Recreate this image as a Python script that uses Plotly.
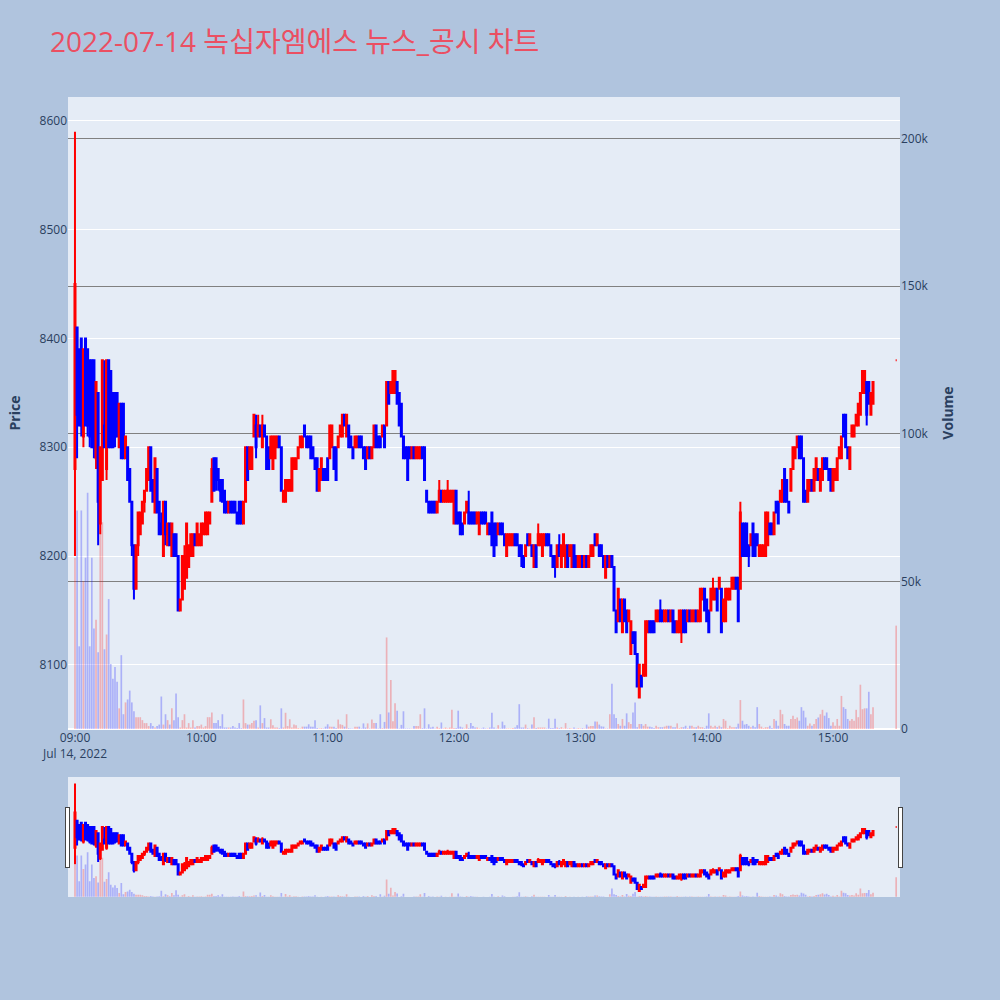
import pandas as pd
import plotly.graph_objects as go
from plotly.subplots import make_subplots

title_text = "2022-07-14 녹십자엠에스 뉴스_공시 차트"

# one candle per minute 09:00 .. 15:19, then the 15:30 closing auction
session_start = "2022-07-14 09:00"
closing_auction = "2022-07-14 15:30"
view_range = ["2022-07-14 08:56:41", "2022-07-14 15:31:49"]

open_px = [
    8280, 8410, 8390, 8400, 8310, 8400, 8390, 8380, 8380, 8380,
    8290, 8350, 8230, 8270, 8320, 8280, 8380, 8370, 8350, 8350,
    8350, 8300, 8340, 8340, 8290, 8300, 8280, 8250, 8210, 8170,
    8210, 8220, 8230, 8250, 8260, 8270, 8300, 8270, 8240, 8280,
    8250, 8230, 8200, 8250, 8210, 8230, 8200, 8220, 8220, 8200,
    8150, 8160, 8170, 8180, 8190, 8200, 8200, 8220, 8210, 8210,
    8210, 8220, 8220, 8220, 8230, 8250, 8290, 8290, 8280, 8270,
    8270, 8260, 8250, 8240, 8250, 8250, 8250, 8240, 8250, 8250,
    8230, 8250, 8300, 8280, 8280, 8310, 8320, 8310, 8320, 8300,
    8320, 8310, 8300, 8290, 8280, 8290, 8300, 8310, 8300, 8250,
    8250, 8260, 8260, 8260, 8280, 8280, 8290, 8300, 8300, 8320,
    8310, 8310, 8310, 8300, 8290, 8290, 8260, 8270, 8280, 8280,
    8290, 8290, 8300, 8300, 8300, 8300, 8310, 8310, 8330, 8310,
    8320, 8310, 8300, 8300, 8300, 8310, 8310, 8300, 8300, 8290,
    8300, 8290, 8300, 8320, 8310, 8310, 8310, 8320, 8320, 8360,
    8350, 8350, 8350, 8360, 8350, 8340, 8310, 8300, 8300, 8300,
    8290, 8300, 8290, 8290, 8290, 8300, 8300, 8260, 8250, 8250,
    8250, 8250, 8240, 8250, 8260, 8250, 8250, 8250, 8250, 8250,
    8230, 8260, 8240, 8240, 8230, 8230, 8240, 8240, 8240, 8240,
    8240, 8230, 8220, 8240, 8240, 8240, 8220, 8230, 8240, 8230,
    8230, 8220, 8230, 8230, 8220, 8200, 8210, 8210, 8210, 8220,
    8220, 8210, 8210, 8200, 8200, 8220, 8210, 8210, 8190, 8210,
    8210, 8210, 8200, 8210, 8220, 8220, 8210, 8200, 8200, 8190,
    8210, 8190, 8200, 8190, 8210, 8200, 8190, 8210, 8200, 8190,
    8190, 8200, 8190, 8200, 8190, 8200, 8200, 8220, 8210, 8210,
    8210, 8200, 8180, 8200, 8190, 8200, 8190, 8150, 8140, 8160,
    8130, 8160, 8150, 8140, 8110, 8130, 8130, 8110, 8070, 8090,
    8090, 8090, 8130, 8140, 8140, 8140, 8140, 8140, 8150, 8150,
    8140, 8140, 8150, 8140, 8150, 8140, 8130, 8130, 8130, 8150,
    8150, 8140, 8150, 8140, 8140, 8150, 8140, 8140, 8160, 8170,
    8160, 8150, 8150, 8160, 8160, 8170, 8170, 8170, 8140, 8140,
    8160, 8160, 8170, 8170, 8180, 8180, 8170, 8230, 8230, 8230,
    8210, 8210, 8230, 8220, 8220, 8200, 8200, 8200, 8200, 8210,
    8230, 8230, 8220, 8250, 8250, 8250, 8250, 8280, 8270, 8250,
    8260, 8280, 8290, 8300, 8310, 8310, 8290, 8260, 8250, 8260,
    8270, 8260, 8270, 8280, 8260, 8270, 8290, 8290, 8280, 8280,
    8260, 8270, 8270, 8290, 8290, 8330, 8330, 8300, 8280, 8310,
    8310, 8320, 8320, 8330, 8350, 8350, 8360, 8360, 8330, 8340,
    8380,
]

high_px = [
    8590, 8410, 8390, 8400, 8390, 8400, 8390, 8380, 8380, 8380,
    8360, 8350, 8300, 8380, 8380, 8380, 8380, 8370, 8350, 8350,
    8350, 8340, 8340, 8340, 8310, 8300, 8280, 8250, 8210, 8210,
    8240, 8240, 8250, 8260, 8280, 8300, 8300, 8270, 8290, 8280,
    8250, 8240, 8250, 8250, 8230, 8230, 8230, 8220, 8220, 8200,
    8160, 8200, 8210, 8230, 8210, 8220, 8220, 8220, 8230, 8220,
    8230, 8230, 8240, 8240, 8240, 8290, 8290, 8290, 8280, 8270,
    8270, 8260, 8250, 8250, 8250, 8250, 8250, 8240, 8250, 8250,
    8250, 8300, 8300, 8300, 8300, 8330, 8330, 8330, 8320, 8330,
    8320, 8310, 8300, 8310, 8310, 8310, 8310, 8310, 8300, 8260,
    8270, 8270, 8270, 8290, 8290, 8290, 8300, 8310, 8310, 8320,
    8310, 8310, 8310, 8300, 8290, 8290, 8280, 8290, 8280, 8280,
    8290, 8320, 8320, 8300, 8300, 8310, 8320, 8330, 8330, 8330,
    8320, 8310, 8300, 8310, 8310, 8310, 8310, 8300, 8300, 8300,
    8300, 8300, 8320, 8320, 8310, 8310, 8320, 8320, 8360, 8360,
    8360, 8370, 8370, 8360, 8350, 8340, 8310, 8300, 8300, 8300,
    8300, 8300, 8300, 8300, 8300, 8300, 8300, 8260, 8250, 8250,
    8250, 8250, 8250, 8270, 8260, 8260, 8260, 8270, 8260, 8260,
    8260, 8260, 8240, 8240, 8230, 8240, 8250, 8260, 8240, 8240,
    8240, 8240, 8240, 8240, 8240, 8240, 8230, 8230, 8240, 8230,
    8230, 8230, 8230, 8230, 8220, 8220, 8220, 8220, 8220, 8220,
    8220, 8210, 8210, 8200, 8210, 8220, 8220, 8210, 8210, 8210,
    8230, 8220, 8220, 8220, 8220, 8220, 8210, 8200, 8200, 8210,
    8220, 8210, 8220, 8210, 8210, 8210, 8210, 8210, 8200, 8200,
    8200, 8200, 8200, 8200, 8200, 8210, 8210, 8220, 8220, 8210,
    8210, 8200, 8200, 8200, 8200, 8200, 8190, 8150, 8170, 8160,
    8160, 8160, 8150, 8150, 8140, 8130, 8130, 8110, 8100, 8090,
    8100, 8140, 8140, 8140, 8140, 8140, 8150, 8150, 8160, 8150,
    8150, 8150, 8150, 8150, 8150, 8140, 8140, 8150, 8150, 8150,
    8150, 8150, 8150, 8150, 8150, 8150, 8150, 8170, 8170, 8170,
    8160, 8150, 8170, 8180, 8170, 8170, 8180, 8170, 8160, 8170,
    8170, 8170, 8180, 8180, 8180, 8180, 8250, 8230, 8230, 8230,
    8210, 8220, 8230, 8220, 8220, 8210, 8210, 8210, 8240, 8240,
    8230, 8230, 8240, 8250, 8250, 8260, 8270, 8280, 8270, 8250,
    8280, 8300, 8300, 8310, 8310, 8310, 8290, 8260, 8270, 8270,
    8270, 8280, 8290, 8280, 8280, 8290, 8290, 8290, 8280, 8280,
    8280, 8280, 8290, 8300, 8310, 8330, 8330, 8300, 8300, 8320,
    8320, 8330, 8340, 8350, 8370, 8370, 8360, 8360, 8350, 8360,
    8380,
]

low_px = [
    8200, 8290, 8320, 8310, 8300, 8320, 8310, 8300, 8300, 8290,
    8280, 8210, 8220, 8270, 8300, 8270, 8300, 8300, 8300, 8300,
    8310, 8300, 8290, 8290, 8290, 8270, 8250, 8200, 8160, 8170,
    8200, 8220, 8230, 8240, 8260, 8270, 8260, 8250, 8240, 8240,
    8220, 8220, 8200, 8210, 8210, 8210, 8200, 8200, 8200, 8150,
    8150, 8160, 8170, 8180, 8190, 8200, 8200, 8210, 8210, 8210,
    8210, 8220, 8220, 8220, 8230, 8250, 8260, 8260, 8260, 8250,
    8250, 8240, 8240, 8240, 8240, 8240, 8240, 8230, 8230, 8230,
    8230, 8250, 8270, 8280, 8280, 8310, 8290, 8310, 8310, 8300,
    8310, 8280, 8280, 8290, 8280, 8290, 8300, 8300, 8260, 8250,
    8250, 8260, 8260, 8260, 8280, 8280, 8290, 8300, 8300, 8310,
    8300, 8300, 8290, 8290, 8280, 8260, 8260, 8270, 8270, 8270,
    8270, 8290, 8300, 8280, 8270, 8300, 8310, 8310, 8320, 8310,
    8300, 8300, 8290, 8300, 8300, 8300, 8300, 8290, 8280, 8290,
    8290, 8290, 8300, 8300, 8300, 8300, 8310, 8300, 8320, 8340,
    8350, 8350, 8350, 8340, 8320, 8310, 8290, 8290, 8270, 8290,
    8290, 8290, 8290, 8290, 8290, 8290, 8270, 8250, 8240, 8240,
    8240, 8240, 8240, 8250, 8250, 8250, 8250, 8250, 8250, 8250,
    8230, 8230, 8230, 8220, 8220, 8230, 8240, 8230, 8230, 8230,
    8230, 8230, 8220, 8230, 8230, 8230, 8220, 8220, 8210, 8200,
    8210, 8220, 8220, 8220, 8210, 8200, 8210, 8210, 8210, 8210,
    8210, 8200, 8190, 8190, 8200, 8210, 8210, 8200, 8190, 8190,
    8210, 8210, 8200, 8210, 8210, 8210, 8200, 8190, 8180, 8190,
    8200, 8190, 8200, 8190, 8190, 8200, 8190, 8190, 8190, 8190,
    8190, 8190, 8190, 8190, 8190, 8200, 8200, 8210, 8210, 8200,
    8200, 8190, 8180, 8190, 8190, 8190, 8150, 8130, 8140, 8140,
    8130, 8140, 8130, 8140, 8110, 8120, 8110, 8080, 8070, 8080,
    8090, 8090, 8130, 8130, 8130, 8130, 8140, 8140, 8140, 8140,
    8140, 8140, 8140, 8140, 8130, 8130, 8130, 8130, 8120, 8130,
    8130, 8140, 8140, 8140, 8140, 8140, 8140, 8140, 8160, 8150,
    8140, 8130, 8150, 8160, 8160, 8150, 8170, 8130, 8140, 8140,
    8160, 8160, 8170, 8170, 8170, 8140, 8170, 8200, 8200, 8200,
    8190, 8210, 8200, 8200, 8210, 8200, 8200, 8200, 8200, 8210,
    8220, 8220, 8220, 8240, 8230, 8250, 8250, 8250, 8250, 8240,
    8260, 8280, 8290, 8300, 8290, 8290, 8250, 8250, 8250, 8260,
    8260, 8260, 8270, 8270, 8260, 8270, 8280, 8280, 8270, 8260,
    8260, 8270, 8270, 8290, 8290, 8310, 8300, 8290, 8280, 8310,
    8310, 8320, 8320, 8330, 8350, 8350, 8320, 8340, 8330, 8340,
    8380,
]

close_px = [
    8450, 8330, 8320, 8320, 8390, 8320, 8320, 8310, 8300, 8300,
    8360, 8250, 8300, 8380, 8300, 8380, 8300, 8300, 8300, 8310,
    8310, 8340, 8290, 8290, 8310, 8270, 8250, 8210, 8170, 8210,
    8240, 8240, 8250, 8260, 8280, 8300, 8260, 8250, 8290, 8240,
    8220, 8220, 8250, 8220, 8230, 8210, 8230, 8200, 8200, 8150,
    8160, 8200, 8200, 8230, 8210, 8220, 8220, 8210, 8230, 8220,
    8230, 8230, 8240, 8240, 8240, 8280, 8260, 8270, 8270, 8260,
    8250, 8240, 8240, 8250, 8240, 8240, 8240, 8230, 8230, 8230,
    8250, 8300, 8270, 8300, 8300, 8330, 8300, 8320, 8310, 8320,
    8310, 8280, 8280, 8310, 8310, 8310, 8310, 8300, 8260, 8260,
    8270, 8270, 8270, 8290, 8290, 8290, 8300, 8310, 8310, 8310,
    8300, 8300, 8290, 8290, 8280, 8260, 8280, 8290, 8270, 8270,
    8270, 8320, 8320, 8280, 8270, 8310, 8320, 8330, 8320, 8330,
    8300, 8300, 8290, 8310, 8310, 8300, 8300, 8290, 8280, 8300,
    8290, 8300, 8320, 8300, 8300, 8300, 8320, 8300, 8360, 8340,
    8360, 8370, 8370, 8340, 8320, 8310, 8290, 8290, 8270, 8290,
    8300, 8290, 8300, 8300, 8300, 8290, 8270, 8250, 8240, 8240,
    8240, 8240, 8250, 8260, 8250, 8260, 8260, 8260, 8260, 8260,
    8260, 8230, 8230, 8220, 8220, 8240, 8250, 8230, 8230, 8230,
    8230, 8240, 8240, 8230, 8230, 8230, 8230, 8220, 8210, 8200,
    8210, 8230, 8220, 8220, 8210, 8220, 8220, 8220, 8220, 8210,
    8210, 8200, 8200, 8190, 8210, 8210, 8220, 8200, 8210, 8190,
    8220, 8220, 8220, 8220, 8210, 8210, 8200, 8190, 8190, 8210,
    8200, 8210, 8220, 8210, 8190, 8210, 8210, 8190, 8190, 8200,
    8200, 8190, 8200, 8190, 8200, 8210, 8210, 8210, 8220, 8200,
    8200, 8190, 8200, 8190, 8200, 8190, 8150, 8130, 8170, 8140,
    8160, 8140, 8130, 8150, 8140, 8120, 8110, 8080, 8100, 8080,
    8100, 8140, 8140, 8130, 8130, 8130, 8150, 8150, 8140, 8140,
    8150, 8150, 8140, 8150, 8130, 8130, 8140, 8150, 8150, 8130,
    8130, 8150, 8140, 8150, 8150, 8140, 8150, 8170, 8170, 8150,
    8140, 8130, 8170, 8170, 8170, 8150, 8180, 8130, 8160, 8170,
    8170, 8170, 8180, 8180, 8170, 8140, 8240, 8200, 8200, 8200,
    8200, 8220, 8200, 8200, 8210, 8210, 8210, 8210, 8240, 8240,
    8220, 8220, 8240, 8240, 8230, 8260, 8270, 8250, 8250, 8240,
    8280, 8300, 8300, 8310, 8290, 8290, 8250, 8250, 8270, 8270,
    8260, 8280, 8290, 8270, 8280, 8290, 8280, 8280, 8270, 8260,
    8280, 8280, 8290, 8300, 8310, 8310, 8300, 8290, 8300, 8320,
    8320, 8330, 8340, 8350, 8370, 8370, 8330, 8340, 8350, 8360,
    8380,
]

volume = [
    58000, 74000, 28000, 74000, 50000, 58000, 80000, 28000, 58000, 34000,
    37000, 26000, 70000, 70000, 27000, 32000, 44000, 22000, 17000, 21000,
    16000, 7000, 25000, 5000, 9000, 10000, 13000, 9000, 6000, 4000,
    4000, 4000, 3000, 2000, 2000, 1000, 2000, 1000, 500, 1000,
    1500, 11000, 1500, 5000, 3000, 1500, 7000, 3000, 12000, 4000,
    500, 3000, 5000, 500, 2000, 500, 3000, 500, 1000, 1000,
    1500, 500, 1000, 4000, 4000, 5600, 2000, 2000, 3000, 1000,
    5000, 500, 500, 500, 500, 1000, 500, 300, 2000, 300,
    10000, 2000, 1500, 1500, 2000, 2800, 3000, 500, 8000, 2000,
    3700, 500, 500, 3300, 1300, 500, 500, 300, 7000, 500,
    5500, 1000, 3300, 500, 1500, 1300, 300, 200, 800, 800,
    800, 1600, 800, 800, 3000, 300, 200, 300, 200, 800,
    1600, 800, 800, 800, 300, 3200, 1600, 1400, 800, 5000,
    300, 200, 200, 800, 800, 800, 200, 1900, 500, 1900,
    200, 3200, 2000, 2000, 200, 5000, 300, 2400, 31000, 5600,
    16600, 2600, 8700, 6200, 200, 1400, 6000, 200, 200, 200,
    200, 1000, 1000, 1000, 5000, 300, 7000, 200, 1600, 500,
    800, 200, 800, 300, 2200, 200, 500, 200, 500, 6500,
    300, 300, 6200, 800, 500, 200, 1600, 300, 2000, 1000,
    500, 500, 200, 200, 500, 200, 200, 500, 5500, 500,
    200, 1300, 200, 2500, 1300, 200, 200, 200, 300, 500,
    1300, 8400, 500, 500, 1500, 300, 200, 1500, 4000, 300,
    500, 500, 500, 500, 200, 3500, 300, 300, 3500, 500,
    300, 600, 200, 2000, 200, 300, 200, 500, 200, 300,
    200, 300, 200, 1500, 800, 1000, 1000, 2500, 2500, 1500,
    900, 800, 200, 200, 5000, 15300, 5000, 3700, 1700, 1100,
    3400, 1100, 5300, 2300, 1700, 5600, 9000, 600, 1700, 1700,
    1100, 1700, 800, 800, 600, 300, 1100, 600, 600, 600,
    800, 1100, 1100, 1100, 600, 600, 1900, 300, 600, 600,
    1100, 300, 1100, 1100, 600, 600, 1100, 600, 600, 300,
    1100, 5300, 1100, 600, 1100, 600, 1100, 600, 3400, 2800,
    300, 1100, 600, 600, 600, 1800, 9800, 2800, 1500, 1700,
    1100, 600, 1100, 600, 7400, 1700, 800, 300, 600, 600,
    1100, 300, 3400, 2800, 1100, 6500, 5000, 1700, 1100, 1100,
    3400, 4500, 3400, 3900, 2800, 7400, 6200, 3900, 1100, 1900,
    1100, 1700, 3400, 3900, 5000, 6500, 4500, 5600, 3700, 1100,
    2300, 1100, 3400, 1100, 11200, 7400, 6800, 3400, 2800, 3400,
    2800, 6500, 4000, 15000, 6700, 7000, 7000, 12600, 5000, 7400,
    35000,
]


def main():
    times = list(pd.date_range(session_start, periods=len(open_px) - 1, freq="min"))
    times.append(pd.Timestamp(closing_auction))

    fig = make_subplots(specs=[[{"secondary_y": True}]])

    candle = go.Candlestick(x=times, open=open_px, high=high_px,
                            low=low_px, close=close_px,
                            increasing=dict(line=dict(color="red"),
                                            fillcolor="red"),
                            decreasing=dict(line=dict(color="blue"),
                                            fillcolor="blue"),
                            showlegend=False)
    fig.add_trace(candle, secondary_y=False)

    # volume bars take the colour of their candle
    vol_colors = ["rgba(255,0,0,0.25)" if c >= o else "rgba(0,0,255,0.25)"
                  for o, c in zip(open_px, close_px)]
    bars = go.Bar(x=times, y=volume,
                  marker=dict(color=vol_colors, line=dict(width=0)),
                  showlegend=False)
    fig.add_trace(bars, secondary_y=True)

    fig.update_layout(
        width=1000, height=1000,
        title=dict(text=title_text, x=0.05, xanchor="left",
                   y=0.958, yanchor="middle",
                   font=dict(size=28, color="#eb4f62",
                             family="Open Sans, Noto Sans CJK KR")),
        paper_bgcolor="lightsteelblue",
        margin=dict(l=68, r=100, t=97, b=104),
        showlegend=False,
    )
    fig.update_yaxes(title_text="<b>Price</b>", range=[8041, 8622],
                     secondary_y=False)
    fig.update_yaxes(title_text="<b>Volume</b>", range=[0, 214000],
                     gridcolor="gray", secondary_y=True)
    fig.update_xaxes(domain=[0, 1], range=view_range,
                     rangeslider=dict(visible=True, range=view_range))

    # drop the browser's default page margin so the figure fills the window
    fig.write_html("out.html", config={"displayModeBar": False},
                   post_script="document.body.style.margin = '0';")


if __name__ == "__main__":
    main()
